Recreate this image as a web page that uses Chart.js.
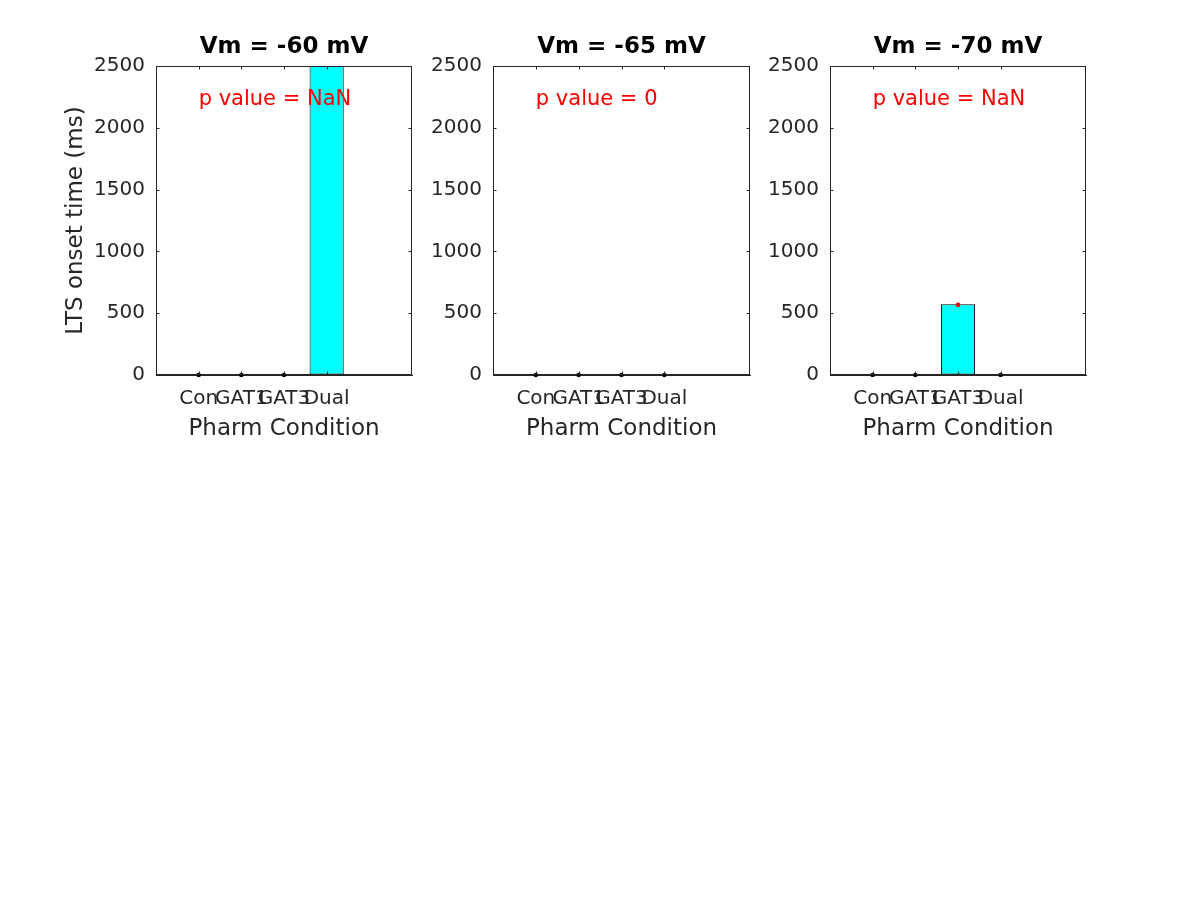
<!DOCTYPE html>
<html><head><meta charset="utf-8">
<script src="https://cdn.jsdelivr.net/npm/chart.js@4.4.1/dist/chart.umd.min.js"></script>
<style>
html,body{margin:0;padding:0;background:#fff;width:1200px;height:900px;overflow:hidden}
#wrap{position:relative;width:1200px;height:900px}
canvas{position:absolute;left:0;top:0}
</style></head>
<body>
<div id="wrap">
<canvas id="c0" width="1200" height="900"></canvas>
<canvas id="c1" width="1200" height="900"></canvas>
<canvas id="c2" width="1200" height="900"></canvas>
</div>
<script>
// ---- data ----
const categories = ['Con', 'GAT1', 'GAT3', 'Dual'];
const panelTitles = ['Vm = -60 mV', 'Vm = -65 mV', 'Vm = -70 mV'];
const pValueLabels = ['p value = NaN', 'p value = 0', 'p value = NaN'];
const barsVm60 = [0, 0, 0, 2900];
const barsVm65 = [0, 0, 0, 0];
const barsVm70 = [0, 0, 573, 0];
const pointsVm60 = [0, 0, 0, 2900];
const pointsVm65 = [0, 0, 0, 0];
const pointsVm70 = [0, 0, 567, 0];
const pointColorsVm60 = ['#000000', '#000000', '#000000', '#ff0000'];
const pointColorsVm65 = ['#000000', '#000000', '#000000', '#000000'];
const pointColorsVm70 = ['#000000', '#000000', '#ff0000', '#000000'];
const yTickValues = [0, 500, 1000, 1500, 2000, 2500];
const pTextPos = {x: 1, y: 2250};

const panels = [
  {bars: barsVm60, pts: pointsVm60, colors: pointColorsVm60, left: 156, right: 412, yTitle: true},
  {bars: barsVm65, pts: pointsVm65, colors: pointColorsVm65, left: 493, right: 750, yTitle: false},
  {bars: barsVm70, pts: pointsVm70, colors: pointColorsVm70, left: 830, right: 1086, yTitle: false}
];

const FONT = "'DejaVu Sans', 'Liberation Sans', sans-serif";
const AX = '#262626';

const boxPlugin = {
  id: 'boxTicks',
  afterDatasetsDraw(chart) {
    const {ctx, chartArea: a, scales} = chart;
    const xs = scales.x, ys = scales.y;
    const L = Math.round(a.left) + 0.5, R = Math.round(a.right) - 0.5;
    const T = Math.round(a.top) + 0.5, B = Math.round(a.bottom) - 0.5;
    ctx.save();
    ctx.strokeStyle = AX;
    ctx.lineWidth = 1;
    ctx.strokeRect(L, T, R - L, B - T);
    const tl = 3;
    ctx.beginPath();
    yTickValues.forEach(v => {
      const y = Math.round(ys.getPixelForValue(v)) + 0.5;
      ctx.moveTo(L, y); ctx.lineTo(L + tl, y);
      ctx.moveTo(R, y); ctx.lineTo(R - tl, y);
    });
    categories.forEach((c, i) => {
      const x = Math.round(xs.getPixelForValue(i + 1)) + 0.5;
      ctx.moveTo(x, B); ctx.lineTo(x, B - tl);
      ctx.moveTo(x, T); ctx.lineTo(x, T + tl);
    });
    ctx.stroke();
    ctx.restore();
  },
  afterDraw(chart) {
    const {ctx, scales} = chart;
    const xs = scales.x, ys = scales.y;
    const t = chart.options.plugins.pText.text;
    ctx.save();
    ctx.fillStyle = '#ff0000';
    ctx.font = "21px " + FONT;
    ctx.textAlign = 'left';
    ctx.textBaseline = 'middle';
    ctx.fillText(t, xs.getPixelForValue(pTextPos.x), ys.getPixelForValue(pTextPos.y) + 3);
    ctx.restore();
  }
};

panels.forEach((p, idx) => {
  const ctx = document.getElementById('c' + idx);
  new Chart(ctx, {
    type: 'bar',
    data: {
      datasets: [
        {
          type: 'scatter',
          order: 0,
          clip: {left: 6, right: 6, top: 0, bottom: 6},
          data: p.pts.map((v, i) => ({x: i + 1, y: v})),
          pointRadius: 2.3,
          pointBackgroundColor: p.colors,
          pointBorderWidth: 0,
          pointHoverRadius: 2.3
        },
        {
          type: 'bar',
          order: 1,
          data: p.bars.map((v, i) => ({x: i + 1, y: v})),
          backgroundColor: '#00ffff',
          borderColor: '#000000',
          borderWidth: 1,
          borderSkipped: false,
          minBarLength: 1,
          barPercentage: 0.8,
          categoryPercentage: 1
        }
      ]
    },
    options: {
      responsive: false,
      animation: false,
      events: [],
      devicePixelRatio: 1,
      layout: {padding: {left: p.left - 94, right: 1200 - p.right, top: 33.5, bottom: 457.5}},
      plugins: {
        legend: {display: false},
        tooltip: {enabled: false},
        title: {
          display: true,
          text: panelTitles[idx],
          fullSize: false,
          color: '#000000',
          font: {family: FONT, size: 23, weight: 'bold', lineHeight: '28px'},
          padding: {top: 0, bottom: 4.5}
        },
        pText: {text: pValueLabels[idx]}
      },
      scales: {
        x: {
          type: 'linear',
          offset: false,
          min: 0, max: 6,
          afterFit(s) { s.height = 67.5; },
          afterBuildTicks(s) { s.ticks = categories.map((c, i) => ({value: i + 1})); },
          grid: {drawOnChartArea: false, drawTicks: false, offset: false},
          border: {display: true, color: AX, width: 1},
          ticks: {
            autoSkip: false, maxRotation: 0, minRotation: 0,
            padding: 12, color: AX,
            font: {family: FONT, size: 20},
            callback: (v) => categories[v - 1]
          },
          title: {display: true, text: 'Pharm Condition', color: AX, padding: 0,
                  font: {family: FONT, size: 23}}
        },
        y: {
          type: 'linear',
          min: 0, max: 2500,
          afterFit(s) { s.width = 94; },
          afterBuildTicks(s) { s.ticks = yTickValues.map(v => ({value: v})); },
          grid: {drawOnChartArea: false, drawTicks: false},
          border: {display: true, color: AX, width: 1},
          ticks: {padding: 11, color: AX, font: {family: FONT, size: 20},
                  callback: (v) => String(v)},
          title: {display: p.yTitle, text: 'LTS onset time (ms)', color: AX, padding: 0,
                  font: {family: FONT, size: 23}}
        }
      }
    },
    plugins: [boxPlugin]
  });
});
</script>
</body></html>
